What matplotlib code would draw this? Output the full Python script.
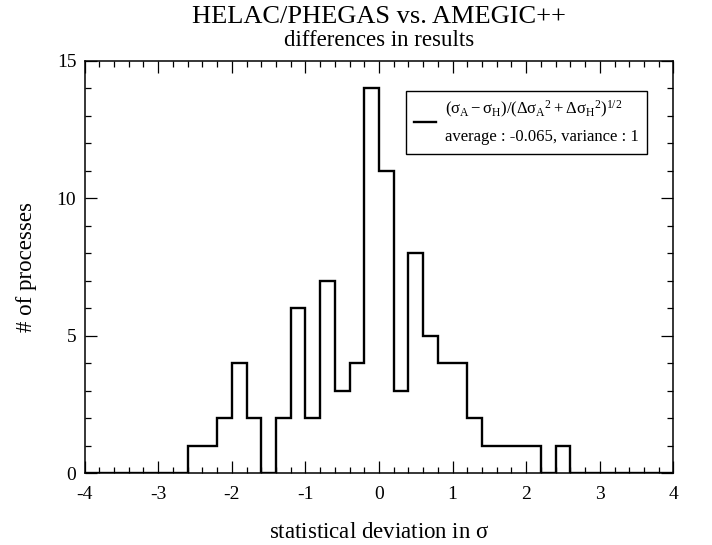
import numpy as np
import matplotlib
matplotlib.use("Agg")
import matplotlib.pyplot as plt
from matplotlib.lines import Line2D
from matplotlib.ticker import MultipleLocator

# histogram of statistical deviations, bins of width 0.2 from -4 to 4
bin_lo, bin_hi, bin_w = -4.0, 4.0, 0.2
counts = [0, 0, 0, 0, 0, 0, 0,          # -4.0 .. -2.6
          1, 1, 2, 4, 2, 0, 2, 6, 2, 7,  # -2.6 .. -0.6
          3, 4, 14, 11, 3, 8, 5, 4, 4, 2,  # -0.6 .. 1.4
          1, 1, 1, 1, 0, 1,              # 1.4 .. 2.6
          0, 0, 0, 0, 0, 0, 0]           # 2.6 .. 4.0
x_ticks = [-4, -3, -2, -1, 0, 1, 2, 3, 4]
y_ticks = [0, 5, 10, 15]
avg_txt = "average : -0.065, variance : 1"

plt.rcParams.update({
    "font.family": ["Liberation Serif", "DejaVu Serif"],
    "mathtext.fontset": "custom",
    "mathtext.rm": "Liberation Serif",
    "mathtext.it": "Liberation Serif",
    "mathtext.bf": "Liberation Serif:bold",
    "axes.unicode_minus": False,
})

edges = np.linspace(bin_lo, bin_hi, len(counts) + 1)

fig = plt.figure(figsize=(7.12, 5.45), dpi=100)
ax = fig.add_axes([0.1188, 0.1316, 0.8270, 0.7570])

ax.stairs(counts, edges, color="black", linewidth=1.7, zorder=3)

ax.set_xlim(bin_lo, bin_hi)
ax.set_ylim(0, 15)
ax.set_xticks(x_ticks)
ax.set_yticks(y_ticks)
ax.xaxis.set_minor_locator(MultipleLocator(0.2))
ax.yaxis.set_minor_locator(MultipleLocator(1))
ax.tick_params(which="both", direction="in", top=True, right=True,
               labelsize=14, width=0.9, colors="black")
ax.tick_params(which="major", length=8.5, pad=6)
ax.tick_params(axis="x", which="major", pad=9)
ax.tick_params(which="minor", length=4.5)
for s in ax.spines.values():
    s.set_linewidth(1.1)

ax.set_xlabel(r"statistical deviation in $\sigma$", fontsize=16.5, labelpad=14)
ax.set_ylabel("# of processes", fontsize=16.5, labelpad=14)

fig.text(0.532, 0.968, "HELAC/PHEGAS vs. AMEGIC++", ha="center", va="center",
         fontsize=19)
fig.text(0.532, 0.926, "differences in results", ha="center", va="center",
         fontsize=16.5)

formula = (r"$(\sigma_{\rm A}-\sigma_{\rm H})/(\Delta\sigma_{\rm A}{}^{2}"
           r"+\Delta\sigma_{\rm H}{}^{2})^{1/2}$")
handle = Line2D([], [], color="black", linewidth=1.7)
leg = ax.legend([handle], [formula + "\n" + avg_txt], loc="upper right",
                bbox_to_anchor=(0.955, 0.927), borderaxespad=0,
                fontsize=12, frameon=True, fancybox=False,
                edgecolor="black", framealpha=1, handlelength=1.3,
                handletextpad=0.55, borderpad=0.5)
leg.get_frame().set_linewidth(1.0)
for t in leg.get_texts():
    t.set_linespacing(1.75)

fig.savefig("out.png", dpi=100, facecolor="white")
